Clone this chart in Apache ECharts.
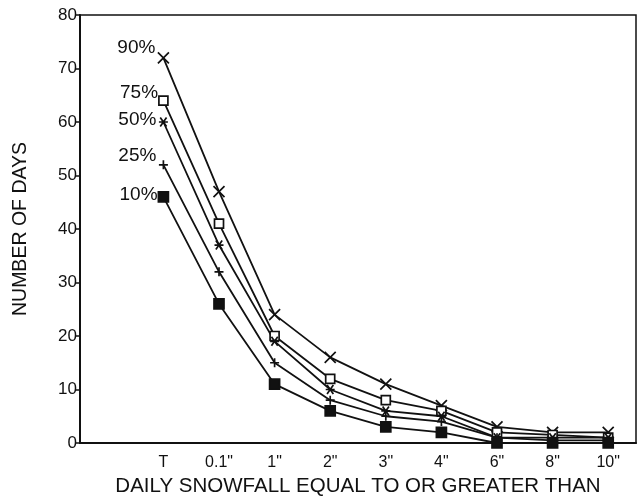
<!DOCTYPE html>
<html>
<head>
<meta charset="utf-8">
<script src="https://cdn.jsdelivr.net/npm/echarts@6/dist/echarts.min.js"></script>
<style>
  html, body { margin: 0; padding: 0; background: #fff; }
  #chart-ctn { width: 641px; height: 497px; }
</style>
</head>
<body>
<div id="chart-ctn"></div>
<script>
// snowfall thresholds (first slot is an empty category, as in the original)
var categories = ['', 'T', '0.1"', '1"', '2"', '3"', '4"', '6"', '8"', '10"'];
var yTicks = [0, 10, 20, 30, 40, 50, 60, 70, 80];

var p90 = [null, 72, 47, 24, 16, 11, 7, 3, 2, 2];
var p75 = [null, 64, 41, 20, 12, 8, 6, 2, 1.5, 1];
var p50 = [null, 60, 37, 19, 10, 6, 5, 1, 1, 1];
var p25 = [null, 52, 32, 15, 8, 5, 4, 1, 0.5, 0.5];
var p10 = [null, 46, 26, 11, 6, 3, 2, 0, 0, 0];

var font = 'Liberation Sans, Arial, Helvetica, sans-serif';

var symX = 'path://M0,0L10,10M10,0L0,10';
var symPlus = 'path://M5,0L5,10M0,5L10,5';
var symStar = 'path://M0,5L10,5M1.5,1L8.5,9M8.5,1L1.5,9';

function mkSeries(name, data, symbol, size, fill, labelOffset) {
  return {
    name: name,
    type: 'line',
    data: data,
    symbol: symbol,
    symbolSize: size,
    showAllSymbol: true,
    connectNulls: false,
    lineStyle: { color: '#111', width: 1.8 },
    itemStyle: { color: fill, borderColor: '#111', borderWidth: 1.7 },
    label: {
      show: true,
      position: 'left',
      offset: labelOffset,
      color: '#111',
      fontSize: 19,
      fontFamily: font,
      formatter: function (p) { return p.dataIndex === 1 ? name : ''; }
    },
    emphasis: { disabled: true },
    z: 3
  };
}

var chart = echarts.init(document.getElementById('chart-ctn'));

var option = {
  animation: false,
  backgroundColor: '#fff',
  grid: {
    left: 80, top: 15, right: 5, bottom: 54,
    outerBoundsMode: 'none',
    show: true, borderColor: '#111', borderWidth: 1.5, backgroundColor: 'transparent'
  },
  xAxis: {
    type: 'category',
    data: categories,
    boundaryGap: true,
    name: 'DAILY SNOWFALL EQUAL TO OR GREATER THAN',
    nameLocation: 'middle',
    nameGap: 28,
    nameTextStyle: { color: '#111', fontSize: 20.5, fontFamily: font },
    axisLine: { lineStyle: { color: '#111', width: 2 } },
    axisTick: { alignWithLabel: true, length: 5, lineStyle: { color: '#111', width: 1.5 } },
    axisLabel: { color: '#111', fontSize: 16, fontFamily: font, margin: 12, interval: 0 },
    splitLine: { show: false }
  },
  yAxis: {
    type: 'value',
    min: yTicks[0],
    max: yTicks[yTicks.length - 1],
    interval: 10,
    name: 'NUMBER OF DAYS',
    nameLocation: 'middle',
    nameGap: 49,
    nameTextStyle: { color: '#111', fontSize: 19.5, fontFamily: font },
    axisLine: { show: true, lineStyle: { color: '#111', width: 2 } },
    axisTick: { show: true, length: 5, lineStyle: { color: '#111', width: 1.5 } },
    axisLabel: { color: '#111', fontSize: 17, fontFamily: font, margin: 3 },
    splitLine: { show: false }
  },
  series: [
    mkSeries('90%', p90, symX, 11, 'none', [5, -10]),
    mkSeries('75%', p75, 'rect', 9, '#fff', [5, -8]),
    mkSeries('50%', p50, symStar, 9, 'none', [5, -2]),
    mkSeries('25%', p25, symPlus, 9, 'none', [5, -9]),
    mkSeries('10%', p10, 'rect', 10, '#111', [5, -2])
  ]
};

chart.setOption(option);
</script>
</body>
</html>
